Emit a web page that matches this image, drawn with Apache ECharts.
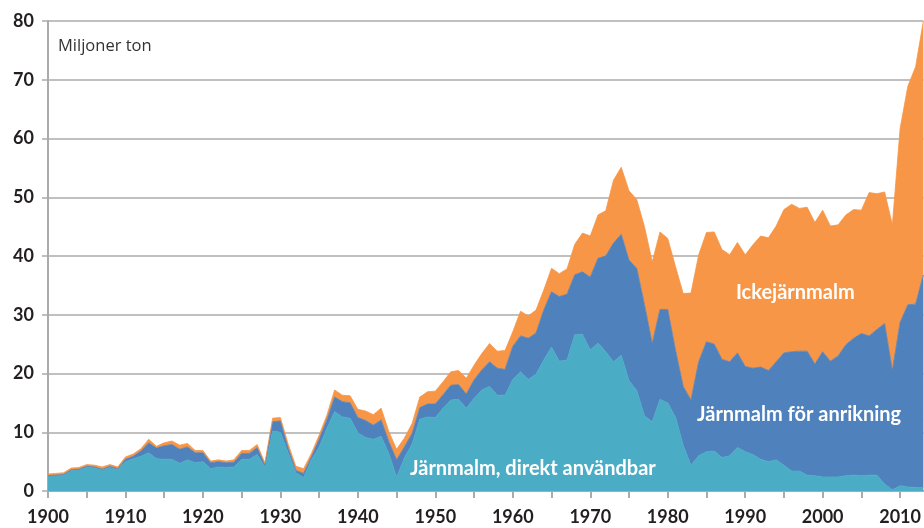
<!DOCTYPE html>
<html>
<head>
<meta charset="utf-8">
<script src="https://cdn.jsdelivr.net/npm/echarts@6/dist/echarts.min.js"></script>
<style>
  html, body { margin: 0; padding: 0; background: #fff; }
  #chart { width: 924px; height: 528px; }
</style>
</head>
<body>
<div id="chart"></div>
<script>
// år 1900-2013, miljoner ton
var startYear = 1900;
var endYear = 2013;

var direkt = [
  2.5, 2.6, 2.7, 3.5, 3.6, 4.1, 4.0, 3.6, 4.0, 3.6,
  5.0, 5.5, 5.9, 6.5, 5.5, 5.4, 5.4, 4.7, 5.3, 4.8,
  5.0, 3.8, 4.1, 4.0, 4.1, 5.4, 5.4, 6.2, 4.1, 10.2,
  10.0, 6.5, 3.1, 2.3, 5.3, 7.5, 10.7, 13.5, 12.6, 12.4,
  9.9, 9.1, 8.8, 9.3, 6.4, 2.4, 5.6, 8.0, 12.2, 12.6,
  12.5, 14.1, 15.5, 15.6, 14.1, 15.8, 17.2, 17.8, 16.3, 16.3,
  19.0, 20.3, 19.0, 19.9, 22.3, 24.5, 22.1, 22.3, 26.6, 26.7,
  24.0, 25.2, 23.7, 22.0, 23.1, 18.8, 17.1, 12.8, 11.8, 15.6,
  15.0, 12.6, 7.8, 4.4, 6.0, 6.7, 6.8, 5.7, 6.0, 7.4,
  6.7, 6.2, 5.4, 5.0, 5.3, 4.4, 3.4, 3.4, 2.7, 2.6,
  2.4, 2.4, 2.4, 2.6, 2.7, 2.6, 2.7, 2.7, 1.2, 0.2,
  0.9, 0.7, 0.6, 0.6
];

var anrikning = [
  0.1, 0.1, 0.1, 0.1, 0.1, 0.1, 0.1, 0.1, 0.2, 0.2,
  0.4, 0.4, 0.9, 1.7, 1.8, 2.3, 2.5, 2.4, 2.2, 1.7,
  1.5, 1.0, 0.9, 0.8, 0.8, 1.0, 1.0, 1.2, 0.3, 1.6,
  1.9, 0.8, 0.4, 0.7, 0.5, 1.3, 1.4, 2.5, 2.6, 2.6,
  2.6, 2.9, 2.4, 2.8, 2.0, 2.9, 1.9, 1.8, 2.0, 2.2,
  2.3, 2.3, 2.5, 2.5, 2.4, 3.1, 3.4, 4.2, 4.6, 4.4,
  5.6, 6.1, 7.0, 7.0, 8.5, 9.4, 11.0, 11.2, 10.2, 10.6,
  12.4, 14.4, 16.3, 20.2, 20.6, 20.5, 20.8, 18.9, 13.3, 15.3,
  15.9, 11.4, 10.0, 11.1, 16.0, 18.7, 18.2, 16.7, 16.0, 16.1,
  14.5, 14.7, 15.7, 15.5, 16.7, 19.1, 20.3, 20.4, 21.1, 19.0,
  21.3, 19.7, 20.6, 22.3, 23.3, 24.2, 23.7, 24.8, 27.3, 20.3,
  27.8, 31.0, 31.2, 36.2
];

var ickejarn = [
  0.3, 0.3, 0.3, 0.3, 0.3, 0.3, 0.3, 0.4, 0.3, 0.3,
  0.4, 0.4, 0.4, 0.6, 0.3, 0.5, 0.6, 0.7, 0.6, 0.4,
  0.4, 0.3, 0.3, 0.3, 0.4, 0.5, 0.5, 0.5, 0.4, 0.6,
  0.6, 0.7, 0.7, 0.8, 0.6, 0.7, 0.8, 1.2, 1.1, 1.2,
  1.4, 1.6, 1.8, 2.0, 1.7, 1.8, 1.5, 1.7, 1.8, 2.1,
  2.2, 2.2, 2.3, 2.4, 2.7, 2.5, 2.8, 3.1, 2.9, 3.2,
  2.5, 4.2, 3.8, 3.9, 3.4, 4.0, 3.9, 4.3, 5.2, 6.6,
  7.0, 7.4, 7.7, 10.7, 11.4, 11.8, 11.7, 13.3, 13.9, 13.2,
  12.1, 14.2, 15.8, 18.2, 18.2, 18.6, 19.1, 18.7, 18.2, 18.8,
  19.0, 21.0, 22.3, 22.6, 23.1, 24.4, 25.1, 24.3, 24.5, 24.1,
  24.1, 23.0, 22.3, 22.1, 21.9, 21.0, 24.4, 23.1, 22.4, 24.8,
  33.0, 37.2, 40.4, 43.2
];

var seriesNames = ['Järnmalm, direkt användbar', 'Järnmalm för anrikning', 'Ickejärnmalm'];
var colors = ['#4bacc6', '#4f81bd', '#f79646'];

var years = [];
for (var y = startYear; y <= endYear; y++) years.push(String(y));

var chart = echarts.init(document.getElementById('chart'));
var axisGray = '#ababab';
var textDark = '#231f20';

function area(i, values) {
  return {
    name: seriesNames[i],
    type: 'line',
    stack: 'total',
    showSymbol: false,
    lineStyle: { width: 0.8, color: colors[i] },
    areaStyle: { color: colors[i], opacity: 1 },
    data: values
  };
}

var option = {
  animation: false,
  grid: { left: 48, right: -4, top: 21, bottom: 37 },
  title: {
    text: 'Miljoner ton',
    left: 53, top: 33,
    textStyle: { fontFamily: 'Open Sans', fontSize: 16.5, fontWeight: 'normal', color: '#333' }
  },
  xAxis: {
    type: 'category',
    boundaryGap: false,
    data: years,
    axisLine: { lineStyle: { color: axisGray, width: 2 } },
    axisTick: {
      length: 7,
      interval: function (idx) { return idx % 5 === 0; },
      lineStyle: { color: axisGray, width: 2 }
    },
    splitLine: { show: false },
    axisLabel: {
      margin: 17,
      interval: function (idx) { return idx % 10 === 0; },
      fontFamily: 'Lato', fontSize: 18, fontWeight: 'bold', color: textDark
    }
  },
  yAxis: {
    type: 'value',
    min: 0, max: 80, interval: 10,
    axisLine: { show: true, lineStyle: { color: axisGray, width: 2 } },
    axisTick: { show: true, length: 6, lineStyle: { color: axisGray, width: 1.5 } },
    splitLine: { lineStyle: { color: axisGray, width: 1.5 } },
    axisLabel: {
      margin: 14,
      fontFamily: 'Lato', fontSize: 18, fontWeight: 'bold', color: textDark
    }
  },
  series: [area(0, direkt), area(1, anrikning), area(2, ickejarn)],
  graphic: [
    { type: 'text', left: 736, top: 283, z: 100,
      style: { text: 'Ickejärnmalm', fill: '#fff', font: 'bold 20px Lato' } },
    { type: 'text', left: 697, top: 405, z: 100,
      style: { text: 'Järnmalm för anrikning', fill: '#fff', font: 'bold 20px Lato' } },
    { type: 'text', left: 410, top: 459, z: 100,
      style: { text: 'Järnmalm, direkt användbar', fill: '#fff', font: 'bold 20px Lato' } }
  ]
};

chart.setOption(option);
</script>
</body>
</html>
